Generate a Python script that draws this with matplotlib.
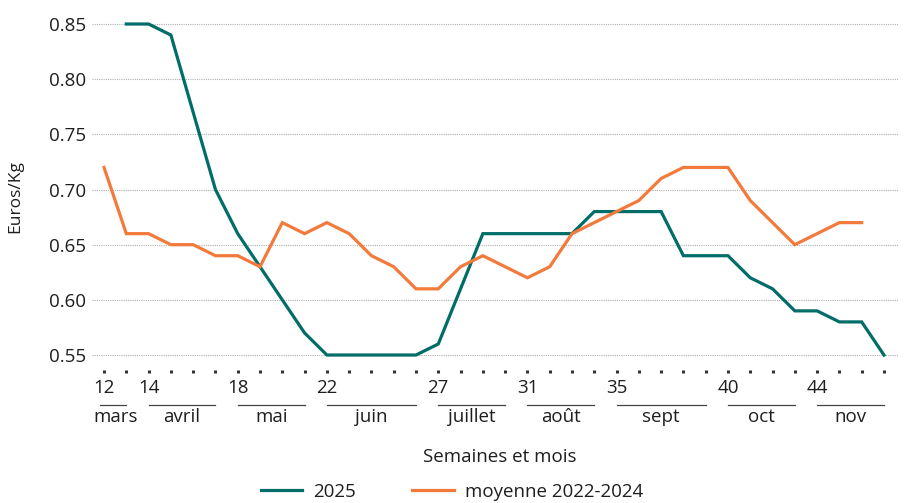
import matplotlib
matplotlib.use("Agg")
import matplotlib.pyplot as plt
import matplotlib.transforms as mtransforms

# semaines 12 a 47
weeks = list(range(12, 48))

prix_2025 = [None, 0.85, 0.85, 0.84, 0.77, 0.70, 0.66, 0.63, 0.60, 0.57,
             0.55, 0.55, 0.55, 0.55, 0.55, 0.56, 0.61, 0.66, 0.66, 0.66,
             0.66, 0.66, 0.68, 0.68, 0.68, 0.68, 0.64, 0.64, 0.64, 0.62,
             0.61, 0.59, 0.59, 0.58, 0.58, 0.55]

moyenne_2022_2024 = [0.72, 0.66, 0.66, 0.65, 0.65, 0.64, 0.64, 0.63, 0.67, 0.66,
                     0.67, 0.66, 0.64, 0.63, 0.61, 0.61, 0.63, 0.64, 0.63, 0.62,
                     0.63, 0.66, 0.67, 0.68, 0.69, 0.71, 0.72, 0.72, 0.72, 0.69,
                     0.67, 0.65, 0.66, 0.67, 0.67, None]

week_labels = [12, 14, 18, 22, 27, 31, 35, 40, 44]

months = ["mars", "avril", "mai", "juin", "juillet", "août", "sept", "oct", "nov"]
month_start = [12, 14, 18, 22, 27, 31, 35, 40, 44]
month_end = [13, 17, 21, 26, 30, 34, 39, 43, 47]

y_ticks = [0.55, 0.60, 0.65, 0.70, 0.75, 0.80, 0.85]

TEAL = "#006D69"
ORANGE = "#F47A3C"
TXT = "#1e1e1e"
FS = 13.5

plt.rcParams['font.family'] = ['Open Sans', 'DejaVu Sans']

fig = plt.figure(figsize=(9.07, 5.03), dpi=100)
ax = fig.add_axes([92 / 907, 1 - 373 / 503, (898 - 92) / 907, (373 - 10) / 503])


def to_series(vals):
    xs = [w for w, v in zip(weeks, vals) if v is not None]
    ys = [v for v in vals if v is not None]
    return xs, ys


x1, y1 = to_series(prix_2025)
x2, y2 = to_series(moyenne_2022_2024)
ax.plot(x1, y1, color=TEAL, lw=2.3, label="2025", solid_joinstyle='miter', zorder=3)
ax.plot(x2, y2, color=ORANGE, lw=2.3, label="moyenne 2022-2024", solid_joinstyle='miter', zorder=3)

ax.set_xlim(11.46, 47.63)
ax.set_ylim(0.5337, 0.8627)

ax.set_yticks(y_ticks)
ax.set_yticklabels([f"{v:.2f}" for v in y_ticks])
ax.grid(axis='y', linestyle=(0, (1, 1)), linewidth=0.8, color='#b0b0b0')
ax.set_axisbelow(True)

ax.set_xticks(weeks)
ax.set_xticklabels([str(w) if w in week_labels else "" for w in weeks])
ax.tick_params(axis='x', length=2.0, width=2.2, color='#333333', direction='in',
               pad=4, labelsize=FS, labelcolor=TXT)
ax.tick_params(axis='y', length=0, pad=4, labelsize=FS, labelcolor=TXT)

for s in ax.spines.values():
    s.set_visible(False)

# mois sous les semaines
trans = mtransforms.blended_transform_factory(ax.transData, ax.transAxes)
for name, a, b in zip(months, month_start, month_end):
    ax.plot([a - 0.2 if a == 12 else a, b], [-0.088, -0.088], color='#444444', lw=0.9,
            transform=trans, clip_on=False)
    ax.text((a + b) / 2, -0.12, name, transform=trans, ha='center', va='center',
            fontsize=FS, color=TXT)

fig.text(15 / 907, 1 - 197 / 503, "Euros/Kg", rotation=90, ha='center', va='center',
         fontsize=12.5, color=TXT)
fig.text(500 / 907, 1 - 457 / 503, "Semaines et mois", ha='center', va='center',
         fontsize=FS, color=TXT)

fig.legend(loc='center', bbox_to_anchor=(452 / 907, 1 - 492 / 503), ncol=2, frameon=False,
           fontsize=FS, handlelength=2.2, columnspacing=3.0, handletextpad=0.6,
           labelcolor=TXT)

fig.savefig("out.png", dpi=100)
